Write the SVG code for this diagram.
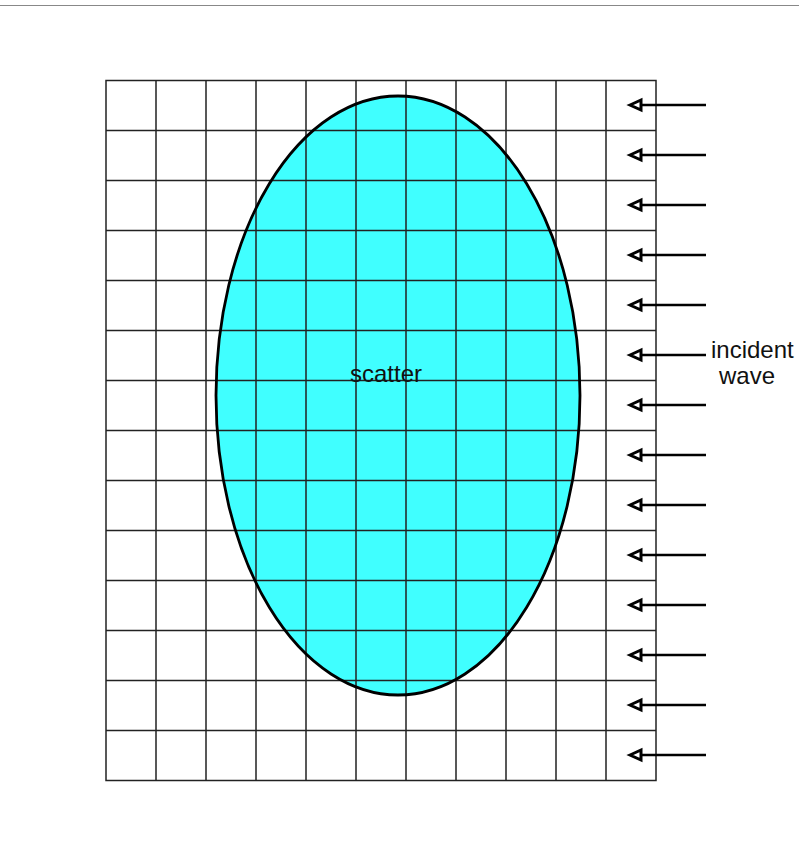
<svg xmlns="http://www.w3.org/2000/svg" width="799" height="850" viewBox="0 0 799 850">
<defs>
<style>
.grid{stroke:#222;stroke-width:1.5;fill:none}
.arrow{stroke:#000;stroke-width:2.3;fill:none}
.head{stroke:#000;stroke-width:3;fill:#fff;stroke-linejoin:miter}
.lbl{font-family:"Liberation Sans",Arial,sans-serif;font-size:24px;fill:#111}
</style>
<g id="ah"><polygon class="head" points="630,0 641,-5 641,5"/></g>
</defs>
<rect width="799" height="850" fill="#fff"/>
<line x1="0" y1="5.5" x2="799" y2="5.5" stroke="#888" stroke-width="1"/>
<g id="scatter">
<ellipse cx="398" cy="395.5" rx="182" ry="299.5" fill="#40ffff"/>
</g>
<g id="grid" class="grid">
<rect x="106" y="80.5" width="550" height="700"/>
<path d="M156 80.5V780.5M206 80.5V780.5M256 80.5V780.5M306 80.5V780.5M356 80.5V780.5M406 80.5V780.5M456 80.5V780.5M506 80.5V780.5M556 80.5V780.5M606 80.5V780.5"/>
<path d="M106 130.5H656M106 180.5H656M106 230.5H656M106 280.5H656M106 330.5H656M106 380.5H656M106 430.5H656M106 480.5H656M106 530.5H656M106 580.5H656M106 630.5H656M106 680.5H656M106 730.5H656"/>
</g>
<g id="scatter-outline">
<ellipse cx="398" cy="395.5" rx="182" ry="299.5" fill="none" stroke="#000" stroke-width="2.8"/>
<text class="lbl" x="350" y="382">scatter</text>
</g>
<g id="incident-wave">
<g class="arrow">
<path d="M641 105H706M641 155H706M641 205H706M641 255H706M641 305H706M641 355H706M641 405H706M641 455H706M641 505H706M641 555H706M641 605H706M641 655H706M641 705H706M641 755H706"/>
</g>
<use href="#ah" y="105"/><use href="#ah" y="155"/><use href="#ah" y="205"/><use href="#ah" y="255"/><use href="#ah" y="305"/><use href="#ah" y="355"/><use href="#ah" y="405"/><use href="#ah" y="455"/><use href="#ah" y="505"/><use href="#ah" y="555"/><use href="#ah" y="605"/><use href="#ah" y="655"/><use href="#ah" y="705"/><use href="#ah" y="755"/>
<text class="lbl" x="711" y="358">incident</text>
<text class="lbl" x="719" y="384">wave</text>
</g>
</svg>
